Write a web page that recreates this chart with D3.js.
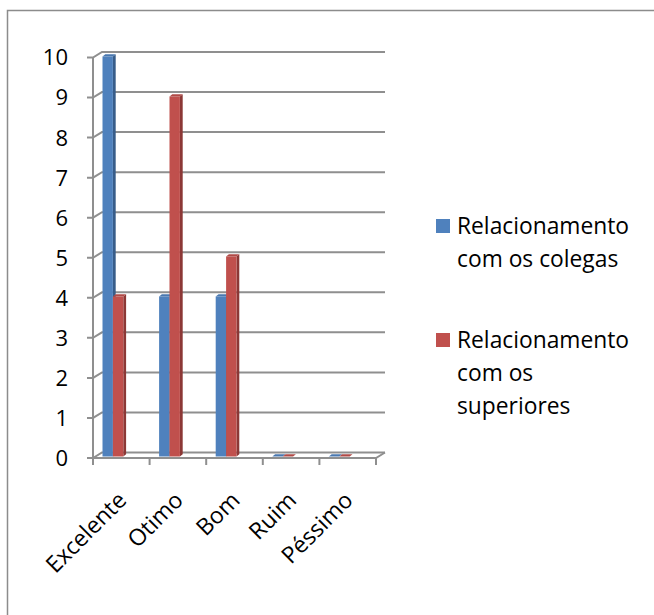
<!DOCTYPE html>
<html>
<head>
<meta charset="utf-8">
<script src="https://cdn.jsdelivr.net/npm/d3@7.9.0/dist/d3.min.js"></script>
<style>
  html, body { margin: 0; padding: 0; background: #fff; }
  svg text { font-family: "Open Sans", sans-serif; fill: #000; }
</style>
</head>
<body>
<svg id="chart" width="654" height="615"></svg>
<script>
const categories = ['Excelente', 'Otimo', 'Bom', 'Ruim', 'Péssimo'];
const seriesNames = ['Relacionamento com os colegas', 'Relacionamento com os superiores'];
const colegas = [10, 4, 4, 0, 0];
const superiores = [4, 9, 5, 0, 0];
const yTicks = [0, 1, 2, 3, 4, 5, 6, 7, 8, 9, 10];

const legendLines = [
  ['Relacionamento', 'com os colegas'],
  ['Relacionamento', 'com os', 'superiores']
];
const colors = [
  { face: '#4f81bd', side: '#385d8a', top: '#4a78b0' },
  { face: '#c0504d', side: '#8c3836', top: '#b04a47' }
];

const svg = d3.select('#chart');
const grid = '#8f8f8f';

// outer frame (only top / left inside the picture)
svg.append('rect').attr('x', 7.5).attr('y', 10.5).attr('width', 700).attr('height', 700)
  .attr('fill', 'none').attr('stroke', '#8c8c8c').attr('stroke-width', 1.5);

// depth offset between front axis and back wall
const dx = 9, dy = 5.5;
const xFront0 = 93, xFront1 = 376;

const yFront = d3.scaleLinear().domain([0, 10]).range([458, 57.5]);
const yBack = v => yFront(v) - dy;
const yBar = d3.scaleLinear().domain([0, 10]).range([456.5, 56.5]);

const x = d3.scaleBand().domain(categories).range([xFront0, xFront1]).padding(0);
const xs = d3.scaleBand().domain([0, 1]).range([9.5, 30.3]).padding(0);

// gridlines with their slanted ends
svg.append('g').selectAll('path').data(yTicks).join('path')
  .attr('d', v => `M${xFront0 - 6},${yFront(v)} H${xFront0} L${xFront0 + dx},${yBack(v)} H${xFront1 + dx}`)
  .attr('fill', 'none').attr('stroke', grid).attr('stroke-width', 2);

// front vertical axis
svg.append('line').attr('x1', xFront0).attr('x2', xFront0)
  .attr('y1', yFront(10)).attr('y2', yFront(0))
  .attr('stroke', grid).attr('stroke-width', 2);

// floor: front edge + right slanted edge
svg.append('path')
  .attr('d', `M${xFront0},${yFront(0)} H${xFront1} L${xFront1 + dx},${yBack(0)}`)
  .attr('fill', 'none').attr('stroke', grid).attr('stroke-width', 2);

// category ticks at band edges
const edges = categories.map(c => x(c)).concat([x.range()[1]]);
svg.append('g').selectAll('line').data(edges).join('line')
  .attr('x1', d => d).attr('x2', d => d)
  .attr('y1', yFront(0)).attr('y2', yFront(0) + 7)
  .attr('stroke', grid).attr('stroke-width', 2);

// y labels
svg.append('g').selectAll('text').data(yTicks).join('text')
  .attr('x', 68).attr('y', v => yFront(v)).attr('dy', '0.36em')
  .attr('text-anchor', 'end').style('font-size', '22px')
  .text(v => v);

// bars (simple 3D: face + side + top)
const bd = 2.8, bu = 2.2;
const series = [colegas, superiores];
series.forEach((vals, s) => {
  const g = svg.append('g');
  const data = categories.map((c, i) => ({ c, v: vals[i] }));
  const bx = d => x(d.c) + xs(s);
  const bw = xs.bandwidth();
  g.selectAll('path.side').data(data).join('path')
    .attr('d', d => `M${bx(d) + bw},${yBar(0)} V${yBar(d.v)} l${bd},${-bu} V${yBar(0) - bu} Z`)
    .attr('fill', colors[s].side);
  g.selectAll('rect').data(data).join('rect')
    .attr('x', bx).attr('y', d => yBar(d.v))
    .attr('width', bw).attr('height', d => yBar(0) - yBar(d.v))
    .attr('fill', colors[s].face);
  g.selectAll('path.top').data(data).join('path')
    .attr('d', d => `M${bx(d)},${yBar(d.v)} l${bd},${-bu} h${bw} l${-bd},${bu} Z`)
    .attr('fill', colors[s].top);
});

// category labels, rotated
svg.append('g').selectAll('text').data(categories).join('text')
  .attr('transform', c => `translate(${x(c) + x.bandwidth() / 2 + 1},${496}) rotate(-45)`)
  .attr('text-anchor', 'end').attr('dy', '0.35em')
  .style('font-size', '23px')
  .text(c => c);

// legend
const legendY = [219, 333];
const lg = svg.append('g');
seriesNames.forEach((name, s) => {
  lg.append('rect').attr('x', 436).attr('y', legendY[s]).attr('width', 14).attr('height', 14)
    .attr('fill', colors[s].face);
  const t = lg.append('text').attr('x', 457).attr('y', legendY[s] + 14.5).style('font-size', '22.8px');
  legendLines[s].forEach((ln, i) => {
    t.append('tspan').attr('x', 457).attr('dy', i === 0 ? 0 : 33).text(ln);
  });
});
</script>
</body>
</html>
